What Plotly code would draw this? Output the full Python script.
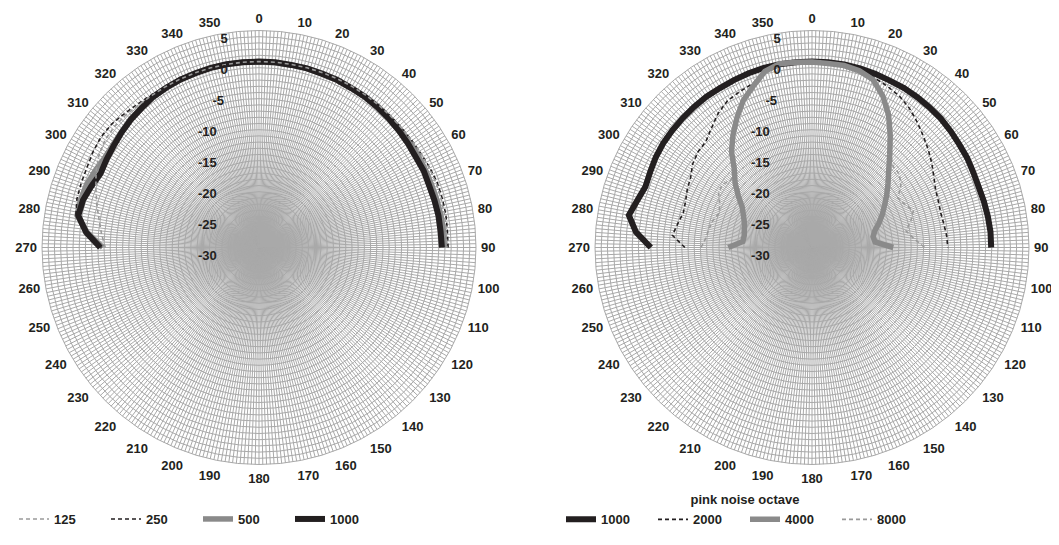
import plotly.graph_objects as go

# angles (degrees), front half: 270 -> 360/0 -> 90, every 5 degrees
angles = [270, 275, 280, 285, 290, 295, 300, 305, 310, 315, 320, 325, 330, 335, 340, 345, 350, 355,
          0, 5, 10, 15, 20, 25, 30, 35, 40, 45, 50, 55, 60, 65, 70, 75, 80, 85, 90]

# left chart (dB)
left_125 = [-5.2, -4.5, -3.8, -2.9, -2.0, -1.0, -0.2, 0.3, 0.4, 0.3, 0.1, 0.0, 0.0, 0.0, 0.0, 0.0, 0.0, 0.0,
            0.0, 0.0, 0.0, 0.0, 0.0, 0.0, 0.0, 0.0, 0.0, 0.0, 0.0, 0.1, 0.2, 0.3, 0.4, 0.4, 0.4, 0.3, 0.3]
left_250 = [-4.6, -2.0, 0.0, 0.4, 0.5, 0.6, 0.9, 1.1, 1.0, 0.6, 0.3, 0.1, 0.0, 0.0, 0.0, 0.0, 0.0, 0.0,
            0.0, 0.0, 0.0, 0.0, 0.0, 0.0, 0.0, 0.0, 0.0, 0.0, 0.0, 0.1, 0.2, 0.4, 0.6, 0.6, 0.6, 0.5, 0.5]
left_500 = [-4.8, -2.2, -0.2, -0.2, -0.4, -0.8, -1.2, -1.2, -1.0, -0.7, -0.5, -0.3, -0.2, -0.1, 0.0, 0.0, 0.0, 0.0,
            -0.1, -0.1, -0.1, -0.1, -0.1, -0.1, -0.2, -0.2, -0.2, -0.3, -0.3, -0.4, -0.4, -0.4, -0.4, -0.3, -0.2, -0.1, 0.0]
left_1000 = [-4.4, -2.0, -0.4, -0.6, -1.2, -1.8, -1.6, -1.4, -1.1, -0.8, -0.6, -0.3, -0.2, -0.1, -0.1, 0.0, 0.0, 0.0,
             0.0, 0.0, -0.1, -0.1, -0.2, -0.2, -0.3, -0.3, -0.4, -0.5, -0.6, -0.7, -0.8, -0.7, -0.8, -0.7, -0.6, -0.6, -0.5]

# right chart (dB)
right_1000 = [-4.0, -1.5, 0.0, -0.8, -1.4, -1.2, -0.9, -0.7, -0.6, -0.5, -0.4, -0.3, -0.3, -0.2, -0.1, 0.0, 0.0, 0.0,
              0.0, 0.0, 0.0, -0.1, -0.2, -0.3, -0.3, -0.4, -0.5, -0.6, -0.8, -1.0, -1.1, -1.3, -1.4, -1.3, -1.2, -1.1, -1.1]
right_2000 = [-9.5, -7.4, -8.0, -8.5, -8.3, -7.8, -7.4, -6.5, -6.0, -5.8, -4.8, -3.6, -2.7, -2.3, -1.9, -0.8, -0.3, -0.1,
              0.0, 0.0, -0.1, -0.3, -0.8, -1.3, -1.8, -2.6, -3.6, -4.6, -5.5, -6.4, -7.3, -8.0, -8.3, -8.5, -8.4, -8.2, -8.1]
right_4000 = [-16.5, -18.8, -18.9, -18.7, -18.4, -17.8, -17.0, -15.5, -13.8, -12.3, -9.8, -7.8, -5.8, -3.8, -2.3, -0.6, 0.1, 0.0,
              -0.1, -0.2, -0.2, -0.5, -1.2, -3.0, -5.3, -8.0, -10.5, -12.5, -14.0, -15.3, -16.5, -17.5, -18.5, -19.5, -20.0, -19.8, -16.9]
right_8000 = [-12.1, -12.8, -13.1, -13.4, -14.0, -13.6, -12.6, -12.3, -13.0, -12.0, -9.6, -7.6, -5.6, -3.6, -2.0, -0.5, 0.0, 0.0,
              -0.1, -0.2, -0.3, -0.6, -1.3, -3.1, -5.4, -8.1, -10.3, -11.5, -11.6, -12.5, -14.0, -13.5, -12.6, -13.5, -14.6, -13.5, -11.8]

angle_ticks = list(range(0, 360))
angle_text = [str(a) if a % 10 == 0 else "" for a in angle_ticks]
radial_ticks = list(range(-30, 6))


def radial_label(v):
    # label sits below-left of its grid circle, as in the original chart
    if v % 5:
        return ""
    s = str(v)
    est = sum(4.4 if c == "-" else 7.3 for c in s)
    pad = int(round((est + 22) / 3.6))
    return "<br>" + s + "&nbsp;" * pad


radial_text = [radial_label(v) for v in radial_ticks]

BLACK = "#231f20"
GREY = "#8a8a8a"
LGREY = "#9a9a9a"
GRID = "#a9a9a9"
FONT = "Liberation Sans, Arial, sans-serif"

fig = go.Figure()


def add(subplot, legend, name, r, color, width, dash, rank):
    fig.add_trace(go.Scatterpolar(
        r=r, theta=angles, mode="lines", name=name,
        line=dict(color=color, width=width, dash=dash),
        subplot=subplot, legend=legend, legendrank=rank))


# left chart (draw order: thick first, dashed on top)
add("polar", "legend", "500", left_500, GREY, 5.5, "solid", 3)
add("polar", "legend", "1000", left_1000, BLACK, 6, "solid", 4)
add("polar", "legend", "250", left_250, BLACK, 1.6, "4px,3px", 2)
add("polar", "legend", "125", left_125, LGREY, 1.6, "4px,3px", 1)

# right chart
add("polar2", "legend2", "1000", right_1000, BLACK, 6, "solid", 1)
add("polar2", "legend2", "2000", right_2000, BLACK, 1.6, "4px,3px", 2)
add("polar2", "legend2", "8000", right_8000, LGREY, 1.6, "4px,3px", 4)
add("polar2", "legend2", "4000", right_4000, GREY, 5.5, "solid", 3)


def polar_layout(xdom):
    return dict(
        domain=dict(x=xdom, y=[88.5 / 545, 522.5 / 545]),
        bgcolor="white",
        angularaxis=dict(
            direction="clockwise", rotation=90,
            tickmode="array", tickvals=angle_ticks, ticktext=angle_text,
            ticks="outside", ticklen=2, tickcolor="rgba(0,0,0,0)",
            showline=True, linecolor=GRID, linewidth=1,
            gridcolor=GRID, gridwidth=1,
            tickfont=dict(family=FONT, size=13, color=BLACK, weight="bold"),
        ),
        radialaxis=dict(
            range=[-30, 5], angle=90, side="counterclockwise", tickangle=90,
            tickmode="array", tickvals=radial_ticks, ticktext=radial_text,
            ticks="", showline=False, gridcolor=GRID, gridwidth=1,
            tickfont=dict(family=FONT, size=13, color=BLACK, weight="bold"),
        ),
    )


legend_common = dict(
    orientation="h", xanchor="left", yanchor="middle",
    font=dict(family=FONT, size=13, color=BLACK, weight="bold"),
    bgcolor="rgba(0,0,0,0)", borderwidth=0,
    entrywidth=47, entrywidthmode="pixels", traceorder="normal",
)

fig.update_layout(
    width=1059, height=545,
    margin=dict(l=0, r=0, t=0, b=0),
    paper_bgcolor="white", plot_bgcolor="white",
    showlegend=True,
    polar=polar_layout([34 / 1059, 468 / 1059]),
    polar2=polar_layout([587 / 1059, 1021 / 1059]),
    legend=dict(x=6 / 1059, y=34 / 545, **legend_common),
    legend2=dict(x=553 / 1059, y=42 / 545,
                 title=dict(text="pink noise octave", side="top center",
                            font=dict(family=FONT, size=13, color=BLACK, weight="bold")),
                 **legend_common),
)

fig.write_html("out.html")
